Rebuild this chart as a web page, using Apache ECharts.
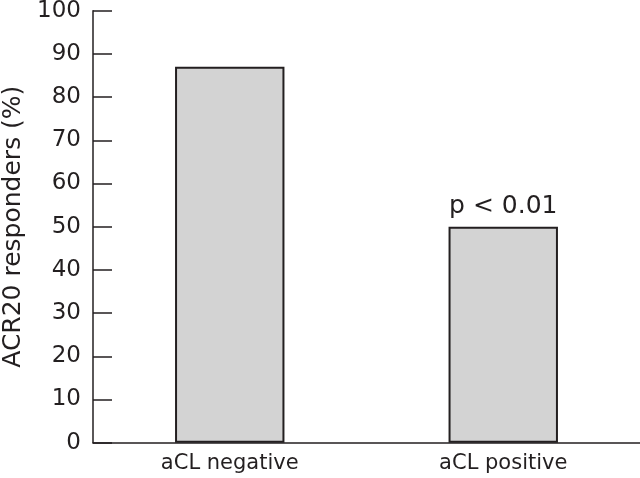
<!DOCTYPE html>
<html><head><meta charset="utf-8">
<script src="https://cdn.jsdelivr.net/npm/echarts@6/dist/echarts.min.js"></script>
<style>html,body{margin:0;padding:0;background:#fff}#c{width:640px;height:478px}</style>
</head><body><div id="c"></div>
<script>
const categories = ['aCL negative', 'aCL positive'];
const values = [87, 50];
const annotations = ['', 'p < 0.01'];
const yTicks = [0, 10, 20, 30, 40, 50, 60, 70, 80, 90, 100];

const font = '"DejaVu Sans", sans-serif';
const ink = '#231f20';
const chart = echarts.init(document.getElementById('c'), null, {renderer: 'canvas'});
chart.setOption({
  animation: false,
  grid: {left: 93, right: 0, top: 10.7, bottom: 35.3, containLabel: false, outerBoundsMode: 'none'},
  xAxis: {
    type: 'category', data: categories,
    axisLine: {lineStyle: {color: ink, width: 1.5}},
    axisTick: {inside: true, length: 11, lineStyle: {color: ink, width: 1.5}},
    axisLabel: {color: ink, fontSize: 21, fontFamily: font, margin: 10}
  },
  yAxis: {
    type: 'value', min: yTicks[0], max: yTicks[yTicks.length - 1], interval: 10,
    name: 'ACR20 responders (%)', nameLocation: 'middle', nameGap: 63,
    nameTextStyle: {color: ink, fontSize: 25, fontFamily: font},
    splitLine: {show: false},
    axisLine: {show: true, lineStyle: {color: ink, width: 1.5}},
    axisTick: {show: true, inside: true, length: 19, lineStyle: {color: ink, width: 1.5}},
    axisLabel: {color: ink, fontSize: 23, fontFamily: font, margin: 12}
  },
  series: [{
    type: 'bar', barWidth: '40%',
    data: values.map((v, i) => ({
      value: v,
      label: {show: annotations[i] !== '', formatter: annotations[i], position: 'top', distance: 8,
              color: ink, fontSize: 25, fontFamily: font}
    })),
    itemStyle: {color: '#d3d3d3', borderColor: ink, borderWidth: 2}
  }]
});
</script></body></html>
